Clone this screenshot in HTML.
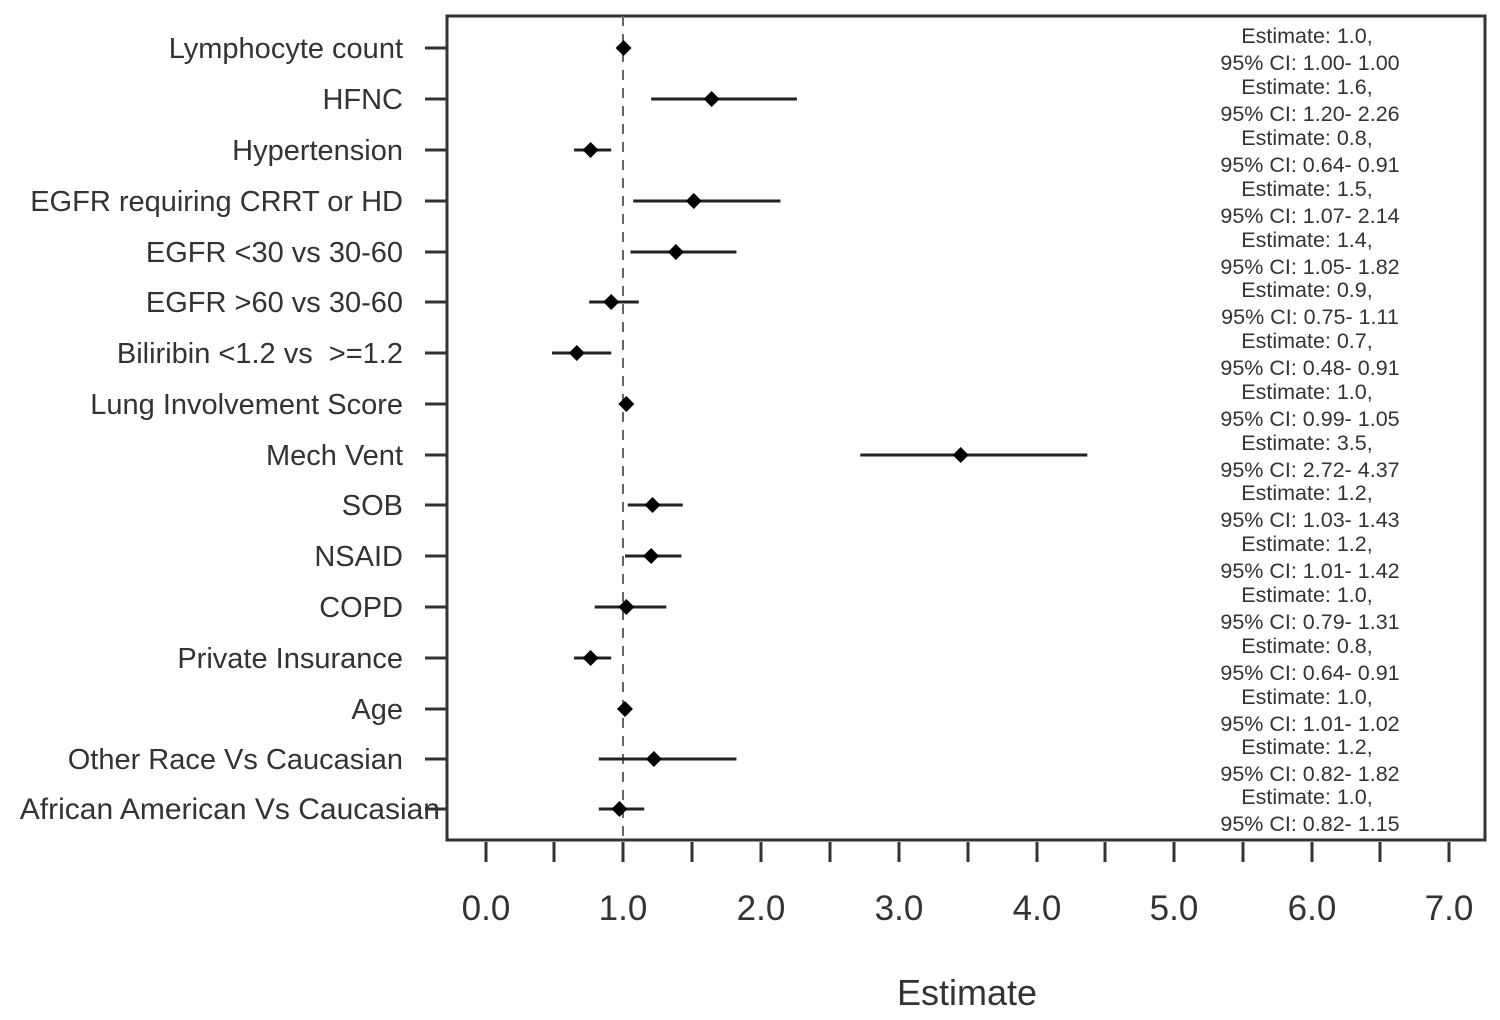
<!DOCTYPE html>
<html><head><meta charset="utf-8"><style>
html,body{margin:0;padding:0;background:#fff}
svg{display:block}
text{font-family:"Liberation Sans",Arial,sans-serif;fill:#333}
</style></head><body>
<svg width="1500" height="1020" viewBox="0 0 1500 1020" xmlns="http://www.w3.org/2000/svg">
<rect x="447" y="16" width="1038" height="824" fill="none" stroke="#333" stroke-width="3"/>
<line x1="623" y1="16" x2="623" y2="840" stroke="#666" stroke-width="2" stroke-dasharray="10,8"/>
<g stroke="#333" stroke-width="3">
<line x1="486" y1="842" x2="486" y2="862"/><line x1="554" y1="842" x2="554" y2="862"/>
<line x1="623" y1="842" x2="623" y2="862"/><line x1="692" y1="842" x2="692" y2="862"/>
<line x1="761" y1="842" x2="761" y2="862"/><line x1="830" y1="842" x2="830" y2="862"/>
<line x1="899" y1="842" x2="899" y2="862"/><line x1="968" y1="842" x2="968" y2="862"/>
<line x1="1037" y1="842" x2="1037" y2="862"/><line x1="1105" y1="842" x2="1105" y2="862"/>
<line x1="1174" y1="842" x2="1174" y2="862"/><line x1="1243" y1="842" x2="1243" y2="862"/>
<line x1="1312" y1="842" x2="1312" y2="862"/><line x1="1380" y1="842" x2="1380" y2="862"/>
<line x1="1449" y1="842" x2="1449" y2="862"/>
</g>
<g font-size="35" text-anchor="middle">
<text x="486" y="920">0.0</text><text x="623" y="920">1.0</text><text x="761" y="920">2.0</text>
<text x="899" y="920">3.0</text><text x="1037" y="920">4.0</text><text x="1174" y="920">5.0</text>
<text x="1312" y="920">6.0</text><text x="1449" y="920">7.0</text>
</g>
<text x="967" y="1005" font-size="36" text-anchor="middle">Estimate</text>
<g id="rows"></g>
</svg>
<script>
var d=[["Lymphocyte count",48,1.0,1.00,1.00,"1.0","1.00- 1.00"],
["HFNC",99,1.64,1.20,2.26,"1.6","1.20- 2.26"],
["Hypertension",150,0.76,0.64,0.91,"0.8","0.64- 0.91"],
["EGFR requiring CRRT or HD",201,1.51,1.07,2.14,"1.5","1.07- 2.14"],
["EGFR <30 vs 30-60",252,1.38,1.05,1.82,"1.4","1.05- 1.82"],
["EGFR >60 vs 30-60",302,0.91,0.75,1.11,"0.9","0.75- 1.11"],
["Biliribin <1.2 vs  >=1.2",353,0.66,0.48,0.91,"0.7","0.48- 0.91"],
["Lung Involvement Score",404,1.02,0.99,1.05,"1.0","0.99- 1.05"],
["Mech Vent",455,3.45,2.72,4.37,"3.5","2.72- 4.37"],
["SOB",505,1.21,1.03,1.43,"1.2","1.03- 1.43"],
["NSAID",556,1.2,1.01,1.42,"1.2","1.01- 1.42"],
["COPD",607,1.02,0.79,1.31,"1.0","0.79- 1.31"],
["Private Insurance",658,0.76,0.64,0.91,"0.8","0.64- 0.91"],
["Age",709,1.01,1.0,1.02,"1.0","1.01- 1.02"],
["Other Race Vs Caucasian",759,1.22,0.82,1.82,"1.2","0.82- 1.82"],
["African American Vs Caucasian",809,0.97,0.82,1.15,"1.0","0.82- 1.15"]];
var X=function(v){return 486+137.6*v};var s="";
d.forEach(function(r,i){var y=r[1];
s+='<line x1="425" y1="'+y+'" x2="447" y2="'+y+'" stroke="#333" stroke-width="3"/>';
var lx=i==15?440:403;
s+='<text x="'+lx+'" y="'+(y+10)+'" font-size="'+(i==15?30:29)+'" text-anchor="end" xml:space="preserve">'+r[0].replace(/</g,"&lt;").replace(/>/g,"&gt;")+'</text>';
s+='<line x1="'+X(r[3])+'" y1="'+y+'" x2="'+X(r[4])+'" y2="'+y+'" stroke="#222" stroke-width="3"/>';
var cx=X(r[2]);
s+='<polygon points="'+cx+','+(y-8)+' '+(cx+8)+','+y+' '+cx+','+(y+8)+' '+(cx-8)+','+y+'" fill="#000"/>';
s+='<text x="1307" y="'+(y-5)+'" font-size="21.5" text-anchor="middle">Estimate: '+r[5]+',</text>';
s+='<text x="1310" y="'+(y+22)+'" font-size="21.5" text-anchor="middle">95% CI: '+r[6]+'</text>';
});
document.getElementById("rows").innerHTML=s;
</script>
</body></html>
